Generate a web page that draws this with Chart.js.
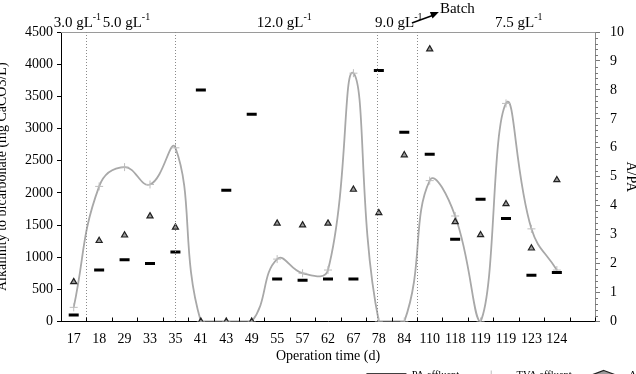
<!DOCTYPE html>
<html>
<head>
<meta charset="utf-8">
<script src="https://cdn.jsdelivr.net/npm/chart.js@4.4.1/dist/chart.umd.min.js"></script>
<style>
  html, body { margin: 0; padding: 0; background: #fff; overflow: hidden; }
  #wrap { position: relative; width: 636px; height: 374px; overflow: hidden; }
  #chart { position: absolute; left: -8px; top: 0; }
</style>
</head>
<body>
<div id="wrap"><canvas id="chart" width="672" height="390"></canvas></div>
<script>
// operation days (last slot is an empty one, as in the original sheet)
const days = ["17", "18", "29", "33", "35", "41", "43", "49", "55", "57", "62", "67", "78", "84", "110", "118", "119", "119", "123", "124", ""];

// PA effluent (mg CaCO3/L) - black dashes
const paEffluent = [100, 800, 960, 900, 1080, 3600, 2040, 3220, 660, 640, 660, 660, 3900, 2940, 2600, 1280, 1900, 1600, 720, 760, null];
// TVA effluent - grey smoothed line
const tvaEffluent = [220, 2100, 2400, 2130, 2700, 0, 0, 0, 970, 750, 800, 3860, 0, 0, 2190, 1640, 0, 3390, 1440, 800, null];
// A/PA ratio - triangles, right axis
const aPa = [1.37, 2.79, 2.98, 3.64, 3.25, 0, 0, 0, 3.39, 3.33, 3.39, 4.56, 3.75, 5.75, 9.41, 3.44, 2.99, 4.06, 2.53, 4.89, null];

// load changes written above the plot
const loadLabels = ["3.0 gL", "5.0 gL", "12.0 gL", "9.0 gL", "7.5 gL"];
const loadAt = [-0.79, 1.14, 7.2, 11.85, 16.57];
const changeLines = [0.5, 4.0, 11.92, 13.5];

const serif = "'Liberation Serif', 'Times New Roman', serif";
const ctx = document.getElementById("chart").getContext("2d");

const extras = {
  id: "extras",
  afterDraw(chart) {
    const c = chart.ctx;
    const x = chart.scales.x;
    const y1 = chart.scales.y1;
    const area = chart.chartArea;
    c.save();

    // top frame line
    c.strokeStyle = "#9a9a9a";
    c.lineWidth = 1;
    c.beginPath();
    c.moveTo(area.left, area.top + 0.5);
    c.lineTo(area.right, area.top + 0.5);
    c.stroke();

    // dotted change lines
    c.setLineDash([1, 2]);
    c.strokeStyle = "#8a8a8a";
    changeLines.forEach((v) => {
      const px = Math.round(x.getPixelForValue(v)) + 0.5;
      c.beginPath();
      c.moveTo(px, area.top);
      c.lineTo(px, area.bottom);
      c.stroke();
    });
    c.setLineDash([]);

    // inner ticks on category axis
    c.strokeStyle = "#000";
    for (let k = 0; k <= days.length; k++) {
      const px = Math.round(x.getPixelForValue(k - 0.5)) + 0.5;
      c.beginPath();
      c.moveTo(px, area.bottom);
      c.lineTo(px, area.bottom - 4);
      c.stroke();
    }

    // minor ticks on right axis
    c.strokeStyle = "#777";
    for (let v = 0; v <= 50; v++) {
      if (v % 5 === 0) continue;
      const py = Math.round(y1.getPixelForValue(v / 5)) + 0.5;
      c.beginPath();
      c.moveTo(area.right, py);
      c.lineTo(area.right + 3, py);
      c.stroke();
    }

    // load labels with superscript -1
    c.fillStyle = "#000";
    c.textBaseline = "alphabetic";
    c.textAlign = "left";
    loadLabels.forEach((t, i) => {
      const px = x.getPixelForValue(loadAt[i]);
      c.font = "15px " + serif;
      c.fillText(t, px, 27);
      const w = c.measureText(t).width;
      c.font = "10px " + serif;
      c.fillText("-1", px + w, 20);
    });

    // Batch note and arrow
    c.font = "15px " + serif;
    const bx = x.getPixelForValue(14.4);
    c.fillText("Batch", bx, 13);
    const ax0 = x.getPixelForValue(13.3), ay0 = 23;
    const ax1 = bx - 1, ay1 = 12;
    c.strokeStyle = "#000";
    c.lineWidth = 1.5;
    c.beginPath();
    c.moveTo(ax0, ay0);
    c.lineTo(ax1 - 5, ay1 + 3);
    c.stroke();
    const ang = Math.atan2(ay1 - ay0, ax1 - ax0);
    c.beginPath();
    c.moveTo(ax1, ay1);
    c.lineTo(ax1 - 9 * Math.cos(ang - 0.4), ay1 - 9 * Math.sin(ang - 0.4));
    c.lineTo(ax1 - 9 * Math.cos(ang + 0.4), ay1 - 9 * Math.sin(ang + 0.4));
    c.closePath();
    c.fill();
    c.restore();
  },
};

const chart = new Chart(ctx, {
  type: "line",
  data: {
    labels: days,
    datasets: [
      {
        label: "PA effluent",
        data: paEffluent,
        yAxisID: "y",
        showLine: false,
        pointStyle: "line",
        pointRadius: 5,
        pointHoverRadius: 5,
        pointBorderWidth: 3,
        borderColor: "#000",
        backgroundColor: "#000",
        order: 1,
      },
      {
        label: "TVA effluent",
        data: tvaEffluent,
        yAxisID: "y",
        borderColor: "#a8a8a8",
        backgroundColor: "#a8a8a8",
        borderWidth: 1.8,
        tension: 0.45,
        pointStyle: "cross",
        pointRadius: 4,
        pointBorderWidth: 1,
        pointBorderColor: "#bdbdbd",
        order: 3,
      },
      {
        label: "A/PA",
        data: aPa,
        yAxisID: "y1",
        showLine: false,
        pointStyle: "triangle",
        pointRadius: 3.5,
        pointBorderWidth: 1.2,
        borderColor: "#222",
        backgroundColor: "#9c9c9c",
        order: 2,
      },
    ],
  },
  options: {
    responsive: false,
    animation: false,
    devicePixelRatio: 1,
    layout: { padding: { top: 32, bottom: 0, left: 0, right: 0 } },
    plugins: {
      legend: {
        position: "bottom",
        align: "end",
        labels: {
          usePointStyle: true,
          pointStyleWidth: 40,
          boxHeight: 6,
          color: "#000",
          font: { family: serif, size: 10.5 },
          padding: 12,
          sort: (a, b) => a.datasetIndex - b.datasetIndex,
        },
      },
      tooltip: { enabled: false },
    },
    scales: {
      x: {
        offset: true,
        grid: { display: false, drawTicks: false },
        border: { color: "#000", width: 1 },
        ticks: {
          color: "#000",
          font: { family: serif, size: 14 },
          padding: 9,
          maxRotation: 0,
          autoSkip: false,
        },
        title: {
          display: true,
          text: "Operation time (d)",
          color: "#000",
          font: { family: serif, size: 14 },
          padding: { top: 0, bottom: -7 },
        },
        afterFit: (s) => { s.height = 36; },
      },
      y: {
        min: 0,
        max: 4500,
        position: "left",
        grid: { drawOnChartArea: false, tickLength: 4, color: "#000" },
        border: { color: "#000", width: 1 },
        ticks: {
          stepSize: 500,
          color: "#000",
          font: { family: serif, size: 14 },
          padding: 4,
          callback: (v) => String(v),
        },
        title: {
          display: true,
          text: "Alkalinity to bicarbonate (mg CaCO3/L)",
          color: "#000",
          font: { family: serif, size: 14 },
          padding: { top: 2, bottom: 0 },
        },
        afterFit: (s) => { s.width = 69; },
      },
      y1: {
        min: 0,
        max: 10,
        position: "right",
        grid: { drawOnChartArea: false, tickLength: 5, color: "#777" },
        border: { color: "#8a8a8a", width: 1 },
        ticks: {
          stepSize: 1,
          color: "#000",
          font: { family: serif, size: 14 },
          padding: 10,
          callback: (v) => String(v),
        },
        title: {
          display: true,
          text: "A/PA",
          color: "#000",
          font: { family: serif, size: 14 },
          padding: { top: 25, bottom: 0 },
        },
        afterFit: (s) => { s.width = 69; },
      },
    },
  },
  plugins: [extras],
});
</script>
</body>
</html>
